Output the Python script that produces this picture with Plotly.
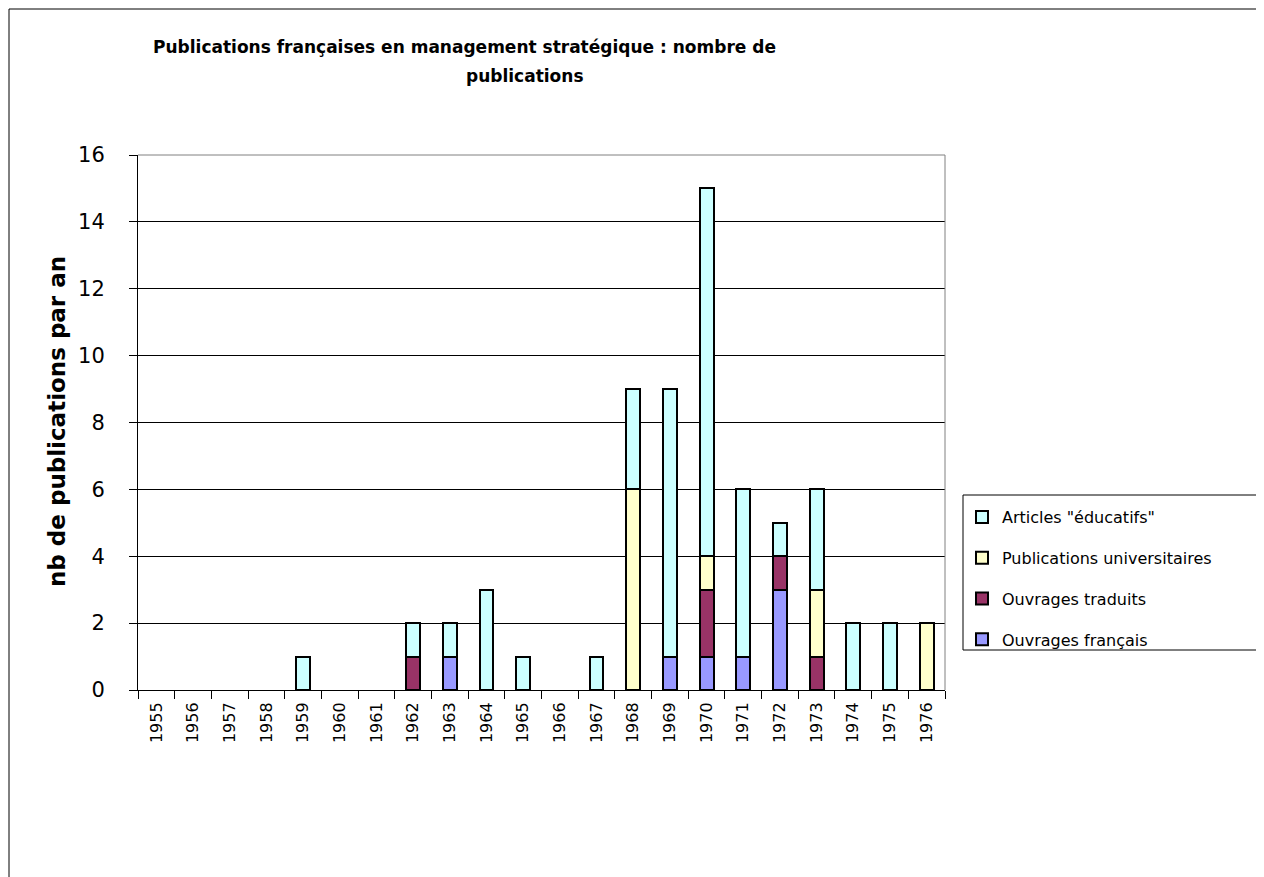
import plotly.graph_objects as go

years = [str(y) for y in range(1955, 1977)]
ouvrages_francais = [0, 0, 0, 0, 0, 0, 0, 0, 1, 0, 0, 0, 0, 0, 1, 1, 1, 3, 0, 0, 0, 0]
ouvrages_traduits = [0, 0, 0, 0, 0, 0, 0, 1, 0, 0, 0, 0, 0, 0, 0, 2, 0, 1, 1, 0, 0, 0]
publications_univ = [0, 0, 0, 0, 0, 0, 0, 0, 0, 0, 0, 0, 0, 6, 0, 1, 0, 0, 2, 0, 0, 2]
articles_educatifs = [0, 0, 0, 0, 1, 0, 0, 1, 1, 3, 1, 0, 1, 3, 8, 11, 5, 1, 3, 2, 2, 0]

series = [
    ("Ouvrages français", ouvrages_francais, "#9999FF", 4),
    ("Ouvrages traduits", ouvrages_traduits, "#993366", 3),
    ("Publications universitaires", publications_univ, "#FFFFCC", 2),
    ('Articles "éducatifs"', articles_educatifs, "#CCFFFF", 1),
]

OFF = 8  # page body margin
W, H = 1264 - OFF, 877 - OFF
L, R, T, B = 138, 945, 155, 690  # plot area in screen pixels
pw, ph = R - L, B - T

def px(x):
    return (x - L) / pw

def py(y):
    return (B - y) / ph

FONT = "DejaVu Sans, Verdana, sans-serif"

fig = go.Figure()
for name, vals, col, rank in series:
    fig.add_trace(go.Bar(
        x=years, y=[v if v else None for v in vals], name=name, legendgroup=name,
        legendrank=rank,
        marker=dict(color=col, line=dict(color="black", width=2)),
    ))

fig.update_layout(
    width=W, height=H,
    margin=dict(l=L - OFF, r=W - (R - OFF), t=T - OFF, b=H - (B - OFF)),
    paper_bgcolor="white", plot_bgcolor="white",
    barmode="stack", bargap=0.62,
    font=dict(family=FONT, color="black"),
    showlegend=True,
    legend=dict(
        x=px(962), y=py(500), xanchor="left", yanchor="top",
        traceorder="grouped", tracegroupgap=17,
        font=dict(size=16, family=FONT), itemwidth=30,
        bgcolor="rgba(0,0,0,0)", borderwidth=0,
    ),
    xaxis=dict(
        type="category", showgrid=False, showline=True, linecolor="black", linewidth=1,
        ticks="outside", tickson="boundaries", ticklen=8, tickcolor="black",
        tickangle=-90, tickfont=dict(size=16), ticklabelstandoff=5,
    ),
    yaxis=dict(
        range=[0, 16], dtick=2, showgrid=True, gridcolor="black", gridwidth=1,
        showline=True, linecolor="black", linewidth=1,
        ticks="outside", ticklen=8, tickcolor="black",
        tickfont=dict(size=21), ticklabelstandoff=20, zeroline=False,
    ),
    shapes=[
        dict(type="rect", xref="paper", yref="paper", x0=px(9), y0=py(890), x1=px(1275), y1=py(9),
             line=dict(color="black", width=1), layer="below"),
        dict(type="line", xref="paper", yref="paper", x0=0, y0=1, x1=1, y1=1,
             line=dict(color="#808080", width=1), layer="above"),
        dict(type="line", xref="paper", yref="paper", x0=1, y0=0, x1=1, y1=1,
             line=dict(color="#808080", width=1), layer="above"),
        dict(type="rect", xref="paper", yref="paper", x0=px(963), y0=py(650), x1=px(1275), y1=py(495),
             line=dict(color="black", width=1), layer="below"),
    ],
    annotations=[
        dict(text="<b>Publications françaises en management stratégique : nombre de</b>",
             xref="paper", yref="paper", x=px(464), y=py(47), showarrow=False,
             font=dict(size=17, family=FONT), xanchor="center", yanchor="middle"),
        dict(text="<b>publications</b>",
             xref="paper", yref="paper", x=px(525), y=py(76), showarrow=False,
             font=dict(size=17, family=FONT), xanchor="center", yanchor="middle"),
        dict(text="<b>nb de publications par an</b>", textangle=-90,
             xref="paper", yref="paper", x=px(57), y=py(422), showarrow=False,
             font=dict(size=23, family=FONT), xanchor="center", yanchor="middle"),
    ],
)

fig.write_html("out.html")
